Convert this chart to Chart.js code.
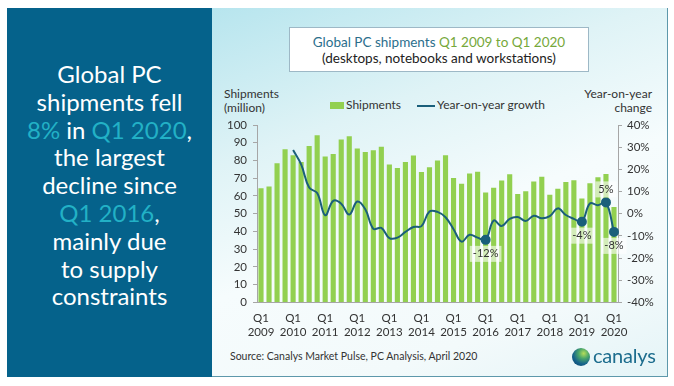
<!DOCTYPE html>
<html>
<head>
<meta charset="utf-8">
<script src="https://cdn.jsdelivr.net/npm/chart.js@4"></script>
<style>
  body { margin: 0; width: 674px; height: 386px; background: #fff; position: relative; overflow: hidden; font-family: Lato, "Open Sans", sans-serif; }
  #left { position: absolute; left: 7px; top: 8px; width: 205px; height: 369px; background: #05628b; }
  #left .msg { position: absolute; left: 0; top: 52px; width: 205px; text-align: center; color: #fff; font-size: 24px; line-height: 27.8px; }
  #left .hi { color: #22b1c6; }
  #right { position: absolute; left: 212px; top: 8px; width: 455px; height: 368px;
    background: linear-gradient(160deg, #b7e5ee 0%, #dff3f6 30%, #f6fcfd 55%, #f3fafb 80%, #e4f4f7 100%);
    border-right: 1px solid #5d98ab; border-bottom: 1px solid #5d98ab; }
  #titlebox { position: absolute; left: 289px; top: 27px; width: 300px; height: 45px; background: #fff; border: 1px solid #9db8c6;
    text-align: center; font-size: 13.5px; line-height: 16px; color: #222; padding-top: 6px; box-sizing: border-box; }
  #titlebox .t1 { color: #2b6e8c; }
  #titlebox .t2 { color: #76a83a; }
  .axt { position: absolute; font-size: 12px; line-height: 14px; color: #333; }
  #legend { position: absolute; left: 330px; top: 97px; font-size: 12px; color: #333; white-space: nowrap; }
  #legend .sw { display: inline-block; width: 14px; height: 7px; background: #92d050; vertical-align: middle; margin-right: 2px; }
  #legend .ln { display: inline-block; width: 18px; height: 2px; background: #1a5f7a; vertical-align: middle; margin: 0 2px 0 16px; }
  #wrap { position: absolute; left: 212px; top: 100px; width: 456px; height: 248px; }
  #source { position: absolute; left: 230px; top: 350px; font-size: 10.5px; color: #333; }
  #globe { position: absolute; left: 572px; top: 348px; width: 18px; height: 18px; border-radius: 50%;
    background: radial-gradient(circle at 65% 30%, #b5dd5a 0%, #4aa66a 30%, #15628c 62%, #0d3f63 100%); }
  #brand { position: absolute; left: 593px; top: 343px; font-size: 20px; color: #1d6d8e; letter-spacing: -0.2px; }
</style>
</head>
<body>
<div id="left">
  <div class="msg">Global PC<br>shipments fell<br><span class="hi">8%</span> in <span class="hi">Q1 2020</span>,<br>the largest<br>decline since<br><span class="hi">Q1 2016</span>,<br>mainly due<br>to supply<br>constraints</div>
</div>
<div id="right"></div>
<div id="titlebox"><span class="t1">Global PC shipments</span> <span class="t2">Q1 2009 to Q1 2020</span><br>(desktops, notebooks and workstations)</div>
<div class="axt" style="left:224px; top:87px;">Shipments<br>(million)</div>
<div class="axt" style="right:22px; top:87px; text-align:right;">Year-on-year<br>change</div>
<div id="legend"><span class="sw"></span>Shipments<span class="ln"></span>Year-on-year growth</div>
<div id="wrap"><canvas id="pcChart" width="456" height="248"></canvas></div>
<div id="source">Source: Canalys Market Pulse, PC Analysis, April 2020</div>
<div id="globe"></div>
<div id="brand">canalys</div>

<script>
// Quarter categories, Q1 2009 .. Q1 2020
const quarters = [
  'Q1 2009', 'Q2 2009', 'Q3 2009', 'Q4 2009',
  'Q1 2010', 'Q2 2010', 'Q3 2010', 'Q4 2010',
  'Q1 2011', 'Q2 2011', 'Q3 2011', 'Q4 2011',
  'Q1 2012', 'Q2 2012', 'Q3 2012', 'Q4 2012',
  'Q1 2013', 'Q2 2013', 'Q3 2013', 'Q4 2013',
  'Q1 2014', 'Q2 2014', 'Q3 2014', 'Q4 2014',
  'Q1 2015', 'Q2 2015', 'Q3 2015', 'Q4 2015',
  'Q1 2016', 'Q2 2016', 'Q3 2016', 'Q4 2016',
  'Q1 2017', 'Q2 2017', 'Q3 2017', 'Q4 2017',
  'Q1 2018', 'Q2 2018', 'Q3 2018', 'Q4 2018',
  'Q1 2019', 'Q2 2019', 'Q3 2019', 'Q4 2019',
  'Q1 2020'
];

// Shipments in millions
const shipments = [
  64.4, 65.3, 78.5, 86.4,
  82.9, 79.1, 88.1, 94.2,
  82.3, 83.6, 91.8, 93.7,
  86.7, 84.8, 85.8, 87.7,
  77.7, 75.7, 79.1, 82.8,
  73.5, 76.2, 80.0, 82.9,
  70.1, 66.9, 72.6, 73.6,
  61.9, 64.6, 68.7, 72.2,
  61.1, 62.7, 68.2, 70.8,
  60.7, 64.1, 67.9, 68.8,
  58.5, 67.1, 70.5, 72.4,
  53.8
];

// Year-on-year growth in percent (no value for 2009)
const yoyGrowth = [
  null, null, null, null,
  28.7, 22.2, 11.8, 9.3,
  -0.7, 5.8, 4.5, -0.4,
  5.5, 2.0, -6.8, -6.4,
  -11.0, -10.8, -8.2, -6.0,
  -5.6, 1.0, 0.8, -1.6,
  -7.0, -12.6, -9.5, -10.8,
  -11.8, -3.1, -5.6, -2.3,
  -1.5, -3.3, -0.9, -2.1,
  -1.1, 2.4, -0.6, -2.3,
  -3.6, 4.6, 3.8, 5.1,
  -8.2
];

// Highlighted points and their labels
const markedQuarters = ['Q1 2016', 'Q1 2019', 'Q4 2019', 'Q1 2020'];
const markedLabels = ['-12%', '-4%', '5%', '-8%'];

const leftTicks = [0, 10, 20, 30, 40, 50, 60, 70, 80, 90, 100];
const rightTicks = [-40, -30, -20, -10, 0, 10, 20, 30, 40];

const markerIdx = markedQuarters.map(q => quarters.indexOf(q));
const pointSizes = quarters.map((q, i) => markerIdx.includes(i) ? 4 : 0);

const axisColor = '#a6a6a6';
const tickFont = { family: 'Lato', size: 11.5 };

// Draws the percent labels next to the highlighted points
const pointLabels = {
  id: 'pointLabels',
  afterDatasetsDraw(chart) {
    const meta = chart.getDatasetMeta(1);
    const c = chart.ctx;
    c.save();
    c.font = '11px Lato';
    c.textAlign = 'center';
    c.textBaseline = 'middle';
    markerIdx.forEach((idx, k) => {
      const pt = meta.data[idx];
      const off = yoyGrowth[idx] > 0 ? -13 : 14;
      const txt = markedLabels[k];
      const w = c.measureText(txt).width + 6;
      c.fillStyle = 'rgba(255,255,255,0.6)';
      c.fillRect(pt.x - w / 2, pt.y + off - 8, w, 16);
      c.fillStyle = '#333';
      c.fillText(txt, pt.x, pt.y + off);
    });
    c.restore();
  }
};

const ctx = document.getElementById('pcChart').getContext('2d');
const pcChart = new Chart(ctx, {
  type: 'bar',
  data: {
    labels: quarters,
    datasets: [{
      label: 'Shipments',
      data: shipments,
      backgroundColor: '#92d050',
      barPercentage: 0.64,
      categoryPercentage: 1.0,
      yAxisID: 'y',
      order: 2
    }, {
      type: 'line',
      label: 'Year-on-year growth',
      data: yoyGrowth,
      borderColor: '#1a5f7a',
      backgroundColor: '#1a5f7a',
      borderWidth: 2,
      tension: 0.4,
      pointRadius: pointSizes,
      pointHoverRadius: pointSizes,
      spanGaps: false,
      fill: false,
      yAxisID: 'y1',
      order: 1
    }]
  },
  options: {
    responsive: false,
    devicePixelRatio: 1,
    animation: false,
    layout: { padding: { top: 25, bottom: 8, left: 0, right: 0 } },
    plugins: { legend: { display: false }, tooltip: { enabled: false } },
    scales: {
      x: {
        offset: true,
        grid: { display: false },
        border: { color: axisColor },
        ticks: {
          autoSkip: false,
          maxRotation: 0,
          padding: 1,
          color: '#333',
          font: tickFont,
          callback: (v, i) => quarters[i].startsWith('Q1') ? quarters[i].split(' ') : ''
        }
      },
      y: {
        position: 'left',
        min: 0,
        max: 100,
        afterBuildTicks: s => { s.ticks = leftTicks.map(v => ({ value: v })); },
        afterFit: s => { s.width = 45; },
        grid: { drawOnChartArea: false, tickLength: 4, color: axisColor },
        border: { color: axisColor },
        ticks: { autoSkip: false, padding: 6, color: '#333', font: tickFont }
      },
      y1: {
        position: 'right',
        min: -40,
        max: 40,
        afterBuildTicks: s => { s.ticks = rightTicks.map(v => ({ value: v })); },
        afterFit: s => { s.width = 50; },
        grid: { drawOnChartArea: false, tickLength: 4, color: axisColor },
        border: { color: axisColor },
        ticks: { autoSkip: false, padding: 5, color: '#333', font: tickFont, callback: v => v + '%' }
      }
    }
  },
  plugins: [pointLabels]
});
</script>
</body>
</html>
